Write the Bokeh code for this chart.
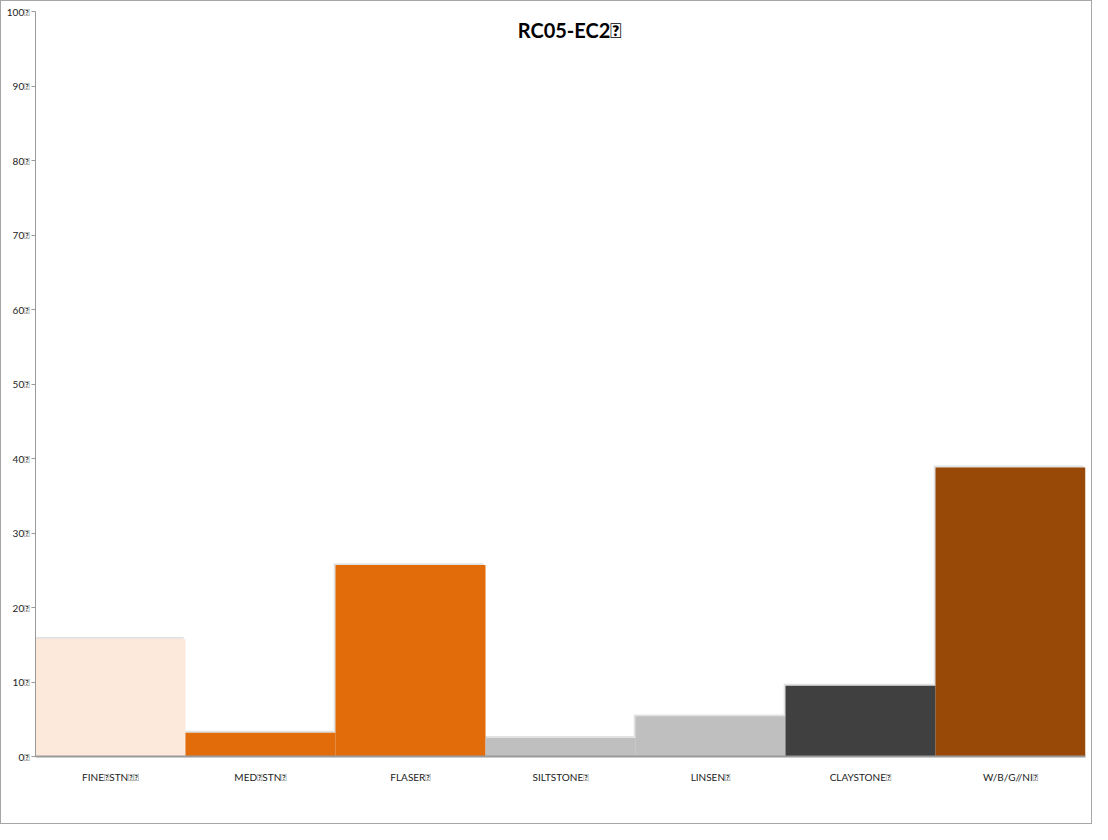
from bokeh.plotting import figure
from bokeh.models import ColumnDataSource, FixedTicker, Range1d, Label
from bokeh.transform import dodge
from bokeh.embed import file_html
from bokeh.resources import INLINE

BOX = "\uE000"
title_text = "RC05-EC2" + BOX
categories = ["FINE" + BOX + "STN" + BOX + BOX, "MED" + BOX + "STN" + BOX, "FLASER" + BOX,
              "SILTSTONE" + BOX, "LINSEN" + BOX, "CLAYSTONE" + BOX, "W/B/G//NI" + BOX]
values = [15.8, 3.2, 25.7, 2.5, 5.4, 9.5, 38.8]
colors = ["#FCE9DB", "#E36C0A", "#E36C0A", "#BFBFBF", "#BFBFBF", "#404040", "#984807"]
y_ticks = [0, 10, 20, 30, 40, 50, 60, 70, 80, 90, 100]
y_tick_labels = [str(t) + BOX for t in y_ticks]

FONT = "Lato"

src = ColumnDataSource(dict(cat=categories, val=values, color=colors,
                            shadow_top=[v + 0.25 for v in values]))

p = figure(x_range=categories, y_range=Range1d(0, 100), width=1092, height=824,
           output_backend="svg", toolbar_location=None,
           min_border_left=34, min_border_right=8, min_border_top=10, min_border_bottom=69)
p.styles = {"border": "1px solid #a6a6a6"}
p.outline_line_color = None
p.xgrid.grid_line_color = None
p.ygrid.grid_line_color = None
p.x_range.range_padding = 0

p.vbar(x=dodge("cat", -0.012, range=p.x_range), top="shadow_top", width=1.0, source=src,
       fill_color="#cfcfcf", fill_alpha=0.6, line_color=None)
p.vbar(x="cat", top="val", width=1.0, source=src, fill_color="color", line_color=None)

p.yaxis.ticker = FixedTicker(ticks=y_ticks)
p.yaxis.major_label_overrides = {t: l for t, l in zip(y_ticks, y_tick_labels)}
p.yaxis.axis_line_color = "#9a9a9a"
p.yaxis.major_tick_line_color = "#9a9a9a"
p.yaxis.major_tick_out = 4
p.yaxis.major_tick_in = 0
p.yaxis.minor_tick_line_color = None
p.yaxis.major_label_text_font = FONT
p.yaxis.major_label_text_font_size = "10px"
p.yaxis.major_label_text_color = "#222222"
p.yaxis.major_label_standoff = 2

p.xaxis.axis_line_color = "#9a9a9a"
p.xaxis.axis_line_width = 2
p.xaxis.major_tick_line_color = None
p.xaxis.minor_tick_line_color = None
p.xaxis.major_label_text_font = FONT
p.xaxis.major_label_text_font_size = "10px"
p.xaxis.major_label_text_color = "#222222"
p.xaxis.major_label_standoff = 8

p.add_layout(Label(x=534, y=727, x_units="screen", y_units="screen", text=title_text,
                   text_font=FONT, text_font_style="bold", text_font_size="20px",
                   text_align="center", text_baseline="middle", text_color="#000000"))

open("out.html", "w").write(file_html(p, INLINE))
